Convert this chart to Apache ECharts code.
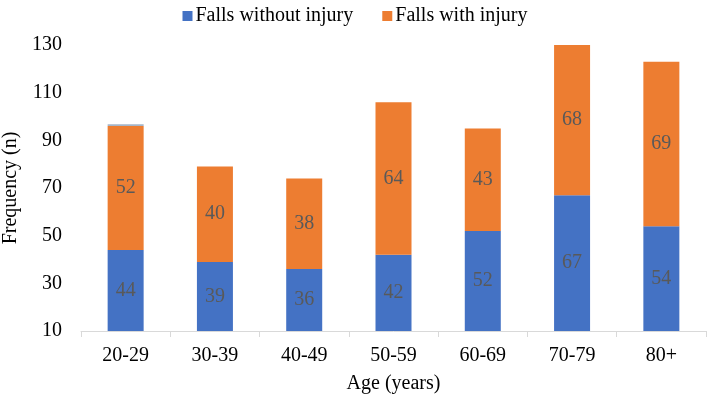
<!DOCTYPE html>
<html><head><meta charset="utf-8">
<script src="https://cdn.jsdelivr.net/npm/echarts@6/dist/echarts.min.js"></script>
<style>html,body{margin:0;padding:0;background:#fff}#c{width:710px;height:396px}</style>
</head><body><div id="c"></div>
<script>
const categories = ['20-29','30-39','40-49','50-59','60-69','70-79','80+'];
const withoutInjury = [44, 39, 36, 42, 52, 67, 54];
const withInjury = [52, 40, 38, 64, 43, 68, 69];
const other = [0.7, 0, 0, 0, 0, 0, 0];
const yTicks = [10, 30, 50, 70, 90, 110, 130];

const font = "'Liberation Serif', 'Times New Roman', serif";
const chart = echarts.init(document.getElementById('c'));
const lbl = {show: true, position: 'inside', color: '#595959', fontFamily: font, fontSize: 20};
chart.setOption({
  animation: false,
  legend: {
    top: 1, left: 'center', itemWidth: 10, itemHeight: 10, itemGap: 29,
    icon: 'rect',
    textStyle: {fontFamily: font, fontSize: 20, color: '#000', padding: [0,0,0,-2]},
    data: ['Falls without injury', 'Falls with injury']
  },
  grid: {left: 81, right: 4, top: 45, bottom: 65, containLabel: false, outerBoundsMode: 'none'},
  xAxis: {
    type: 'category', data: categories,
    name: 'Age (years)', nameLocation: 'middle', nameGap: 43,
    nameTextStyle: {fontFamily: font, fontSize: 20, color: '#000'},
    axisLine: {lineStyle: {color: '#d9d9d9'}},
    axisTick: {show: true, length: 6, lineStyle: {color: '#d9d9d9'}},
    axisLabel: {fontFamily: font, fontSize: 20, color: '#000', margin: 15}
  },
  yAxis: {
    type: 'value', min: 10, max: 130, interval: 20,
    name: 'Frequency (n)', nameLocation: 'middle', nameGap: 59, nameRotate: 90,
    nameTextStyle: {fontFamily: font, fontSize: 20, color: '#000'},
    splitLine: {show: false}, axisLine: {show: false}, axisTick: {show: false},
    axisLabel: {fontFamily: font, fontSize: 20, color: '#000', margin: 19}
  },
  series: [
    {name: 'Falls without injury', type: 'bar', stack: 's', data: withoutInjury, barWidth: 36,
     itemStyle: {color: '#4472C4'}, label: lbl},
    {name: 'Falls with injury', type: 'bar', stack: 's', data: withInjury,
     itemStyle: {color: '#ED7D31'}, label: lbl},
    {name: 'Other', type: 'bar', stack: 's', data: other,
     itemStyle: {color: '#A5B5C8'}, label: {show: false}}
  ]
});
</script></body></html>
